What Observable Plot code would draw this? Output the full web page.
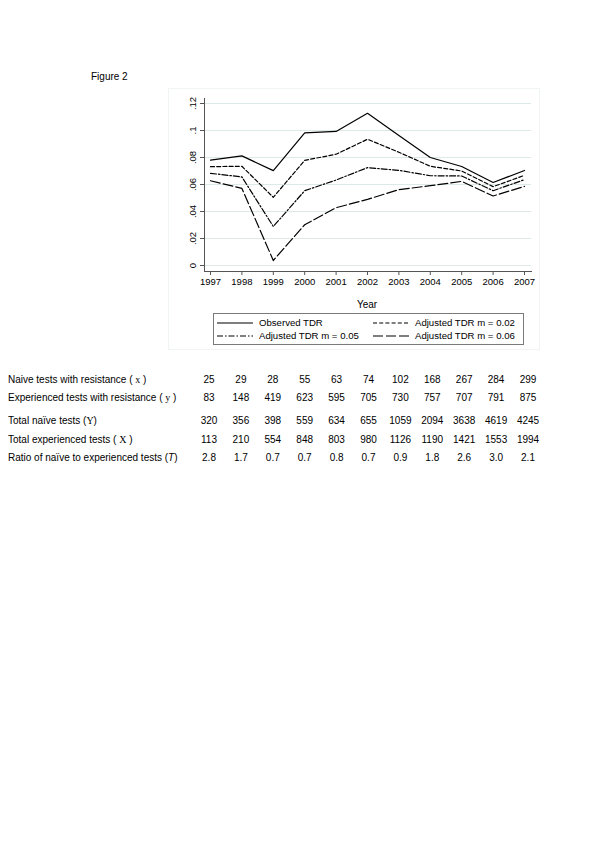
<!DOCTYPE html>
<html>
<head>
<meta charset="utf-8">
<script src="https://cdn.jsdelivr.net/npm/d3@7"></script>
<script src="https://cdn.jsdelivr.net/npm/@observablehq/plot@0.6"></script>
<style>
  html, body { margin: 0; padding: 0; background: #fff; }
  #page { position: relative; width: 600px; height: 848px; font-family: "Liberation Sans", Arial, sans-serif; color: #000; overflow: hidden; }
  #chart { position: absolute; left: 0; top: 0; }
  .abs { position: absolute; white-space: nowrap; }
  #region { position: absolute; left: 168px; top: 88px; width: 372px; height: 262px; border: 1px solid #f1f4f4; box-sizing: border-box; }
  #legend { position: absolute; left: 213px; top: 313px; width: 311px; height: 32px; border: 1px solid #7a7a7a; box-sizing: border-box; font-size: 9.6px; }
  .lg { position: absolute; display: flex; align-items: center; }
  .lg svg { margin-right: 6px; }
  .serif { font-family: "Liberation Serif", "Times New Roman", serif; }
</style>
</head>
<body>
<div id="page">
  <div id="region"></div>
  <div class="abs" style="left:91px; top:71px; font-size:10px;">Figure 2</div>
  <div id="chart"></div>
  <div class="abs" style="left:367px; top:299px; font-size:10px; transform:translateX(-50%);">Year</div>
  <div id="legend"></div>
  <div id="table"></div>
</div>
<script>
// ---- Chart data ----
const years = [1997, 1998, 1999, 2000, 2001, 2002, 2003, 2004, 2005, 2006, 2007];
const observedTDR = [0.0780, 0.0812, 0.0703, 0.0983, 0.0993, 0.1127, 0.0963, 0.0800, 0.0733, 0.0615, 0.0704];
const adjustedM02 = [0.0732, 0.0735, 0.0505, 0.0779, 0.0824, 0.0935, 0.0839, 0.0735, 0.0700, 0.0584, 0.0668];
const adjustedM05 = [0.0683, 0.0656, 0.0289, 0.0554, 0.0633, 0.0725, 0.0705, 0.0665, 0.0663, 0.0554, 0.0636];
const adjustedM06 = [0.0628, 0.0571, 0.0037, 0.0302, 0.0428, 0.0490, 0.0562, 0.0591, 0.0623, 0.0515, 0.0586];
const seriesNames = ["Observed TDR", "Adjusted TDR m = 0.02", "Adjusted TDR m = 0.05", "Adjusted TDR m = 0.06"];
const yTicks = [0, 0.02, 0.04, 0.06, 0.08, 0.1, 0.12];
const yTickLabels = ["0", ".02", ".04", ".06", ".08", ".1", ".12"];

// ---- Table data ----
const naiveWithRes = [25, 29, 28, 55, 63, 74, 102, 168, 267, 284, 299];
const expWithRes = [83, 148, 419, 623, 595, 705, 730, 757, 707, 791, 875];
const totalNaive = [320, 356, 398, 559, 634, 655, 1059, 2094, 3638, 4619, 4245];
const totalExp = [113, 210, 554, 848, 803, 980, 1126, 1190, 1421, 1553, 1994];
const ratioNE = ["2.8", "1.7", "0.7", "0.7", "0.8", "0.7", "0.9", "1.8", "2.6", "3.0", "2.1"];
const rowLabels = [
  'Naive tests with resistance ( <span class="serif">x</span> )',
  'Experienced tests with resistance ( <span class="serif">y</span> )',
  'Total naïve tests (<span class="serif">Y</span>)',
  'Total experienced tests ( <span class="serif">X</span> )',
  'Ratio of naïve to experienced tests (<i>T</i>)'
];

const dashes = ["none", "4,2.2", "6,2,1.5,2", "10,3"];
const allSeries = [observedTDR, adjustedM02, adjustedM05, adjustedM06];
const data = [];
allSeries.forEach((vals, s) => years.forEach((yr, i) => data.push({year: yr, value: vals[i], series: seriesNames[s]})));

const chart = Plot.plot({
  width: 600,
  height: 300,
  marginLeft: 204,
  marginRight: 69,
  marginTop: 98,
  marginBottom: 29,
  style: {fontFamily: '"Liberation Sans", Arial, sans-serif', fontSize: "9.5px", color: "#000", background: "transparent"},
  x: {domain: [1997, 2007], range: [210, 524]},
  y: {domain: [0, 0.12], range: [265, 103]},
  marks: [
    Plot.gridY(yTicks, {stroke: "#dde8e8", strokeOpacity: 1, strokeWidth: 1}),
    Plot.frame({anchor: "left", stroke: "#555"}),
    Plot.frame({anchor: "bottom", stroke: "#555"}),
    Plot.axisX({ticks: years, tickFormat: d => String(d), tickSize: 4, tickPadding: 3, label: null, stroke: "#555", fontSize: 9.5}),
    Plot.axisY({ticks: yTicks, tickFormat: d => yTickLabels[yTicks.indexOf(d)], tickSize: 4, tickPadding: 5, tickRotate: -90,
      textAnchor: "middle", lineAnchor: "bottom", label: null, stroke: "#555", fontSize: 9.5}),
    ...seriesNames.map((name, s) => Plot.line(data.filter(d => d.series === name), {
      x: "year", y: "value", stroke: "#000", strokeWidth: 1.2, strokeDasharray: dashes[s]
    }))
  ]
});
document.getElementById("chart").appendChild(chart);

// ---- Legend ----
const legend = document.getElementById("legend");
const legPos = [[3, 3], [159, 3], [3, 16], [159, 16]];
seriesNames.forEach((name, s) => {
  const item = document.createElement("div");
  item.className = "lg";
  item.style.left = legPos[s][0] + "px";
  item.style.top = legPos[s][1] + "px";
  item.innerHTML = `<svg width="36" height="8"><line x1="0" y1="4" x2="36" y2="4" stroke="#000" stroke-width="1.2" stroke-dasharray="${dashes[s]}"/></svg><span>${name}</span>`;
  legend.appendChild(item);
});

// ---- Table ----
const table = document.getElementById("table");
const rows = [naiveWithRes, expWithRes, totalNaive, totalExp, ratioNE];
const rowTops = [374, 392, 415, 434, 452];
rows.forEach((vals, r) => {
  const lab = document.createElement("div");
  lab.className = "abs";
  lab.style.left = "8px";
  lab.style.top = rowTops[r] + "px";
  lab.style.fontSize = "10px";
  lab.innerHTML = rowLabels[r];
  table.appendChild(lab);
  vals.forEach((v, i) => {
    const c = document.createElement("div");
    c.className = "abs";
    c.style.left = (209 + i * 31.9) + "px";
    c.style.top = rowTops[r] + "px";
    c.style.fontSize = "10px";
    c.style.transform = "translateX(-50%)";
    c.textContent = v;
    table.appendChild(c);
  });
});
</script>
</body>
</html>
